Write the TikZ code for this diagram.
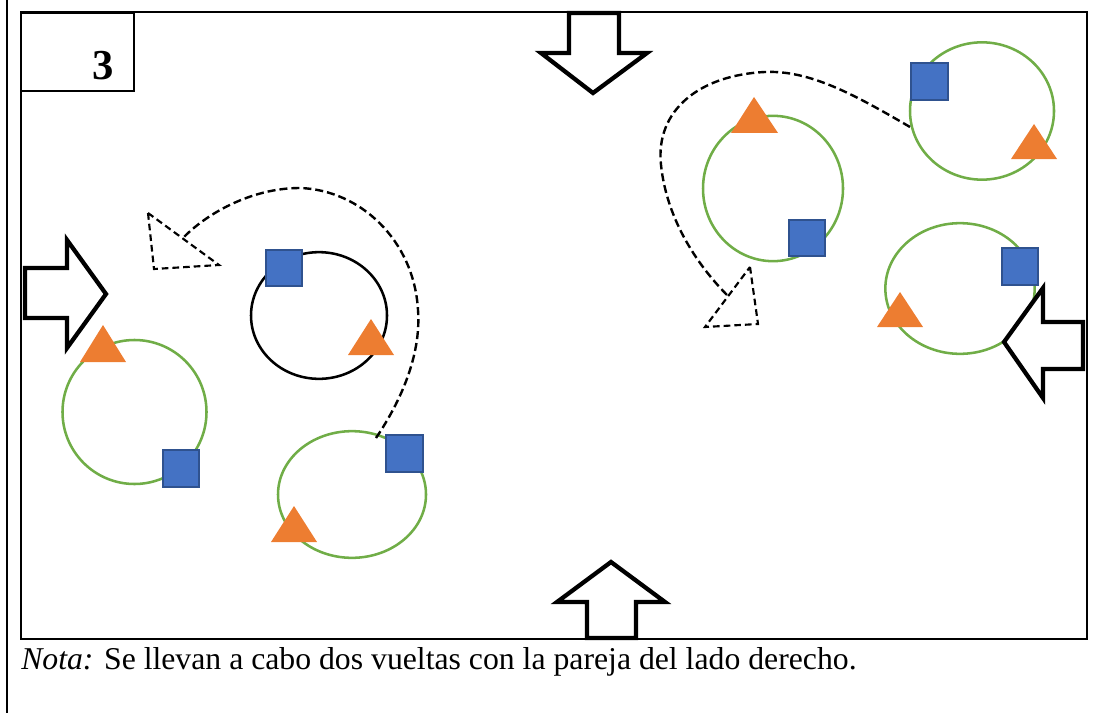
\documentclass[tikz,border=0pt]{standalone}
\usepackage{fontspec}
\setmainfont{Liberation Serif}
\usetikzlibrary{shapes.geometric}
\definecolor{pgreen}{HTML}{70AD47}
\definecolor{porange}{HTML}{ED7D31}
\definecolor{pblue}{HTML}{4472C4}
\definecolor{pbluedark}{HTML}{2F528F}
\begin{document}
\begin{tikzpicture}[x=0.75pt,y=-0.75pt,
  framestyle/.style={line width=1.7pt},
  ring/.style={ellipse, draw=pgreen, line width=1.9pt, inner sep=0pt},
  blackring/.style={ellipse, draw=black, line width=1.9pt, inner sep=0pt},
  sq/.style={rectangle, fill=pblue, draw=pbluedark, line width=1.4pt, minimum size=27.5pt, inner sep=0pt},
  tri/.style={fill=porange},
  blockarrow/.style={draw=black, fill=white, line width=3.2pt, line join=miter},
  turn/.style={draw=black, dashed, dash pattern=on 6pt off 3pt, line width=1.8pt},
  turnhead/.style={draw=black, dash pattern=on 5pt off 3pt, line width=1.6pt, fill=white}
]
\useasboundingbox (0,0) rectangle (1094,713);
% outer left rule and inner frame
\draw[line width=1.5pt] (7,0) -- (7,713);
\draw[framestyle] (21,12) rectangle (1087,639);
% label box
\node[draw, framestyle, minimum width=84.75pt, minimum height=58.5pt, anchor=north west, inner sep=0pt] (labelbox) at (20,12) {};
\node[anchor=base, inner sep=0pt, font=\fontsize{32}{36}\selectfont\bfseries] (num) at (103,80) {3};

% circles
\node[ring, minimum width=108pt, minimum height=108pt] (c1) at (134.5,412) {};
\node[blackring, minimum width=102pt, minimum height=95pt] (c2) at (319,315.5) {};
\node[ring, minimum width=111pt, minimum height=95pt] (c3) at (352,494.5) {};
\node[ring, minimum width=105pt, minimum height=109pt] (c4) at (773,188.5) {};
\node[ring, minimum width=108pt, minimum height=103pt] (c5) at (982,111) {};
\node[ring, minimum width=112pt, minimum height=98pt] (c6) at (960,288.5) {};

% dashed turn paths
\coordinate (l0) at (376,438);
\coordinate (l1) at (183,238);
\draw[turn] (l0) .. controls (405,395) and (421,350) .. (418,310)
  .. controls (414,240) and (360,190) .. (300,188)
  .. controls (250,188) and (205,215) .. (l1);
\draw[turnhead] (148,213) -- (219,265) -- (154,269) -- cycle;

\coordinate (r0) at (910,127);
\coordinate (r1) at (728,296);
\draw[turn] (r0) .. controls (855,95) and (810,70) .. (765,72)
  .. controls (700,75) and (655,110) .. (661,165)
  .. controls (667,222) and (700,268) .. (r1);
\draw[turnhead] (750,267) -- (758,324) -- (705,327) -- cycle;

% squares
\node[sq] (s1) at (181,468.5) {};
\node[sq] (s2) at (284,268) {};
\node[sq] (s3) at (404.5,453.5) {};
\node[sq] (s4) at (807,238) {};
\node[sq] (s5) at (929.5,81.5) {};
\node[sq] (s6) at (1020,266.5) {};

% triangles
\fill[tri] (103,325) -- (126,362) -- (80,362) -- cycle;
\fill[tri] (371,319) -- (394,355) -- (348,355) -- cycle;
\fill[tri] (294,506) -- (317,542) -- (271,542) -- cycle;
\fill[tri] (754,97) -- (778,133) -- (731,133) -- cycle;
\fill[tri] (1034,124) -- (1057,159) -- (1011,159) -- cycle;
\fill[tri] (900,292) -- (923,327) -- (877,327) -- cycle;

% block arrows
\draw[blockarrow] (569,13) -- (569,53) -- (541,53) -- (593,93) -- (647,53) -- (619,53) -- (619,13) -- cycle;
\draw[blockarrow] (587,638) -- (587,602) -- (557,602) -- (611,562) -- (665,602) -- (636,602) -- (636,638) -- cycle;
\draw[blockarrow] (25,268) -- (67,268) -- (67,240) -- (106,294) -- (67,348) -- (67,318) -- (25,318) -- cycle;
\draw[blockarrow] (1083,322) -- (1043,322) -- (1043,288) -- (1004,342) -- (1043,398) -- (1043,369) -- (1083,369) -- cycle;

% caption
\node[anchor=base west, inner sep=0pt, font=\fontsize{23.8}{28}\selectfont] (nota) at (21,669)
  {\textit{Nota:} Se llevan a cabo dos vueltas con la pareja del lado derecho.};
\end{tikzpicture}
\end{document}
